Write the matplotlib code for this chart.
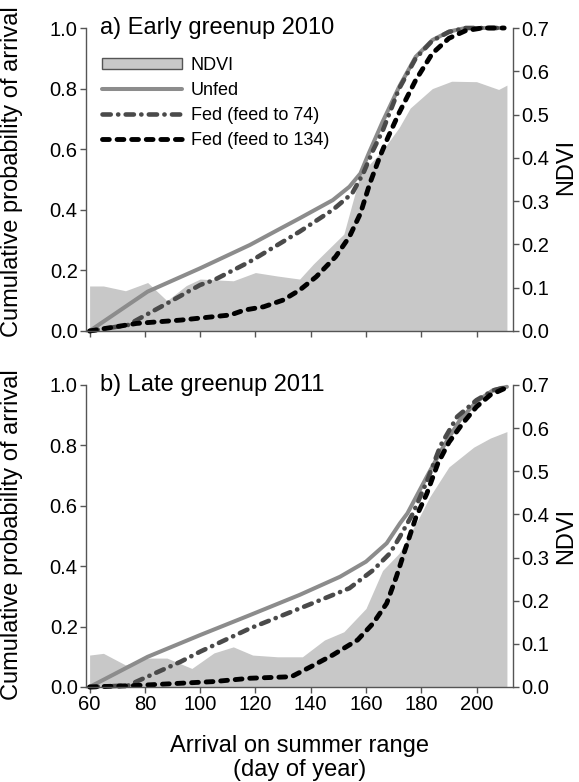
import matplotlib
matplotlib.use("Agg")
import matplotlib.pyplot as plt
from matplotlib.patches import Patch
from matplotlib.lines import Line2D

plt.rcParams['font.family'] = ['Liberation Sans', 'DejaVu Sans']

# ---- panel a) early greenup 2010 ----
unfed_a_day = [60, 81, 100, 118, 128, 136, 148, 154, 158, 161, 166, 172, 178, 184, 190, 196, 210]
unfed_a = [0.0, 0.13, 0.207, 0.284, 0.333, 0.372, 0.432, 0.476, 0.52, 0.586, 0.69, 0.806, 0.905, 0.96, 0.988, 1.0, 1.0]

fed74_a_day = [60, 74, 77, 87, 100, 105, 118, 136, 148, 155, 159, 162.6, 166, 172, 178, 184, 190, 196, 210]
fed74_a = [0.0, 0.02, 0.036, 0.086, 0.152, 0.168, 0.229, 0.328, 0.40, 0.454, 0.52, 0.597, 0.66, 0.80, 0.90, 0.958, 0.987, 1.0, 1.0]

fed134_a_day = [60, 77, 93, 111, 116, 123, 130, 136, 142, 149, 154, 158, 161.4, 165, 168, 172, 178, 184, 190, 196, 202, 210]
fed134_a = [0.0, 0.025, 0.036, 0.053, 0.069, 0.08, 0.102, 0.135, 0.179, 0.245, 0.311, 0.388, 0.487, 0.575, 0.64, 0.72, 0.828, 0.916, 0.966, 0.991, 1.0, 1.0]

ndvi_a_day = [60, 65, 73, 81, 88, 95, 100, 112, 120, 128, 136, 141, 152, 155, 158, 166, 172, 176, 184, 191, 200, 208, 211]
ndvi_a = [0.104, 0.104, 0.093, 0.112, 0.070, 0.105, 0.12, 0.116, 0.135, 0.127, 0.12, 0.155, 0.224, 0.294, 0.363, 0.417, 0.47, 0.515, 0.56, 0.577, 0.576, 0.558, 0.568]

# ---- panel b) late greenup 2011 ----
unfed_b_day = [60, 81, 100, 118, 136, 150.6, 160, 167.5, 172.3, 175, 182, 188, 194, 200, 206, 211]
unfed_b = [0.0, 0.10, 0.172, 0.238, 0.305, 0.365, 0.415, 0.476, 0.542, 0.575, 0.696, 0.796, 0.884, 0.945, 0.983, 0.994]

fed74_b_day = [60, 74, 77, 93, 100, 118, 136, 154, 162.6, 168.7, 172.3, 177, 182, 187, 193, 200, 206, 211]
fed74_b = [0.0, 0.005, 0.018, 0.084, 0.117, 0.194, 0.26, 0.327, 0.387, 0.443, 0.498, 0.575, 0.68, 0.80, 0.895, 0.95, 0.982, 0.994]

fed134_b_day = [60, 77, 105, 118, 133, 140, 148, 157, 162.6, 167.5, 171, 174, 178, 182, 186, 190, 195, 200, 205, 211]
fed134_b = [0.0, 0.005, 0.018, 0.029, 0.034, 0.067, 0.106, 0.156, 0.211, 0.277, 0.365, 0.45, 0.56, 0.64, 0.74, 0.81, 0.873, 0.928, 0.967, 0.992]

ndvi_b_day = [60, 65, 73, 81, 88, 97, 105, 112, 119, 128, 137, 145, 152, 160, 166, 172, 179, 183, 190, 199, 205, 211]
ndvi_b = [0.074, 0.078, 0.051, 0.067, 0.067, 0.043, 0.079, 0.093, 0.074, 0.070, 0.070, 0.109, 0.128, 0.182, 0.27, 0.31, 0.39, 0.44, 0.51, 0.556, 0.577, 0.592]

titles = ["a) Early greenup 2010", "b) Late greenup 2011"]
xticks = [60, 80, 100, 120, 140, 160, 180, 200]
yticks = [0.0, 0.2, 0.4, 0.6, 0.8, 1.0]
ndvi_ticks = [0.0, 0.1, 0.2, 0.3, 0.4, 0.5, 0.6, 0.7]

fill_col = '#c8c8c8'
unfed_col = '#8c8c8c'
fed74_col = '#4a4a4a'
spine_col = '#555555'
dashdot = (1.8, 1.6, 0.05, 1.6)

W, H = 579, 782
fig = plt.figure(figsize=(W / 100, H / 100), dpi=100)
axa = fig.add_axes([86 / W, 1 - 331 / H, 427 / W, 303 / H])
axb = fig.add_axes([86 / W, 1 - 687 / H, 427 / W, 302 / H])

panels = [
    (axa, unfed_a_day, unfed_a, fed74_a_day, fed74_a, fed134_a_day, fed134_a, ndvi_a_day, ndvi_a),
    (axb, unfed_b_day, unfed_b, fed74_b_day, fed74_b, fed134_b_day, fed134_b, ndvi_b_day, ndvi_b),
]

for i, (ax, ud, u, f1d, f1, f2d, f2, nd, n) in enumerate(panels):
    tw = ax.twinx()
    tw.fill_between(nd, n, 0, color=fill_col, lw=0)
    tw.set_ylim(0, 0.7)
    tw.set_yticks(ndvi_ticks)
    tw.set_yticklabels([f"{v:.1f}" for v in ndvi_ticks])

    # lines on top of the NDVI fill
    ax.set_zorder(tw.get_zorder() + 1)
    ax.patch.set_visible(False)

    ax.plot(ud, u, color=unfed_col, lw=2.9, solid_capstyle='round', clip_on=False)
    ax.plot(f1d, f1, color=fed74_col, lw=3.3, dashes=dashdot,
            dash_capstyle='round', clip_on=False)
    ax.plot(f2d, f2, color='black', lw=3.5, dashes=(1.4, 1.6),
            dash_capstyle='round', clip_on=False)

    ax.set_xlim(58.7, 213.2)
    ax.set_ylim(0, 1.0)
    ax.set_xticks(xticks)
    ax.set_yticks(yticks)
    ax.set_yticklabels([f"{v:.1f}" for v in yticks])
    if i == 0:
        ax.tick_params(axis='x', labelbottom=False)

    for a in (ax, tw):
        for s in a.spines.values():
            s.set_color(spine_col)
            s.set_linewidth(1.0)
        a.spines['top'].set_visible(False)
        a.tick_params(direction='out', length=4, width=1, color=spine_col,
                      labelsize=14.5, pad=2)
    ax.spines['right'].set_visible(False)
    tw.spines['left'].set_visible(False)
    tw.spines['bottom'].set_visible(False)

    ax.text(0.033, 1.0, titles[i], transform=ax.transAxes, ha='left', va='center',
            fontsize=17)

handles = [
    Patch(facecolor=fill_col, edgecolor=spine_col, lw=1),
    Line2D([], [], color=unfed_col, lw=2.9, solid_capstyle='round'),
    Line2D([], [], color=fed74_col, lw=3.3, dashes=dashdot, dash_capstyle='round'),
    Line2D([], [], color='black', lw=3.5, dashes=(1.4, 1.6), dash_capstyle='round'),
]
labels = ["NDVI", "Unfed", "Fed (feed to 74)", "Fed (feed to 134)"]
axa.legend(handles, labels, loc='upper left', bbox_to_anchor=(0.038, 0.905),
           frameon=False, fontsize=13, handlelength=4.4, handleheight=0.5,
           handletextpad=0.5, labelspacing=0.45, borderpad=0, borderaxespad=0)

fig.text(12 / W, 1 - 172 / H, "Cumulative probability of arrival", rotation=90,
         ha='center', va='center', fontsize=17)
fig.text(12 / W, 1 - 535 / H, "Cumulative probability of arrival", rotation=90,
         ha='center', va='center', fontsize=17)
fig.text(566 / W, 1 - 167 / H, "NDVI", rotation=90, ha='center', va='center', fontsize=17)
fig.text(566 / W, 1 - 536 / H, "NDVI", rotation=90, ha='center', va='center', fontsize=17)
fig.text(300 / W, 1 - 758 / H, "Arrival on summer range\n(day of year)", ha='center',
         va='center', fontsize=17, linespacing=1.1)

fig.savefig("out.png", dpi=100)
